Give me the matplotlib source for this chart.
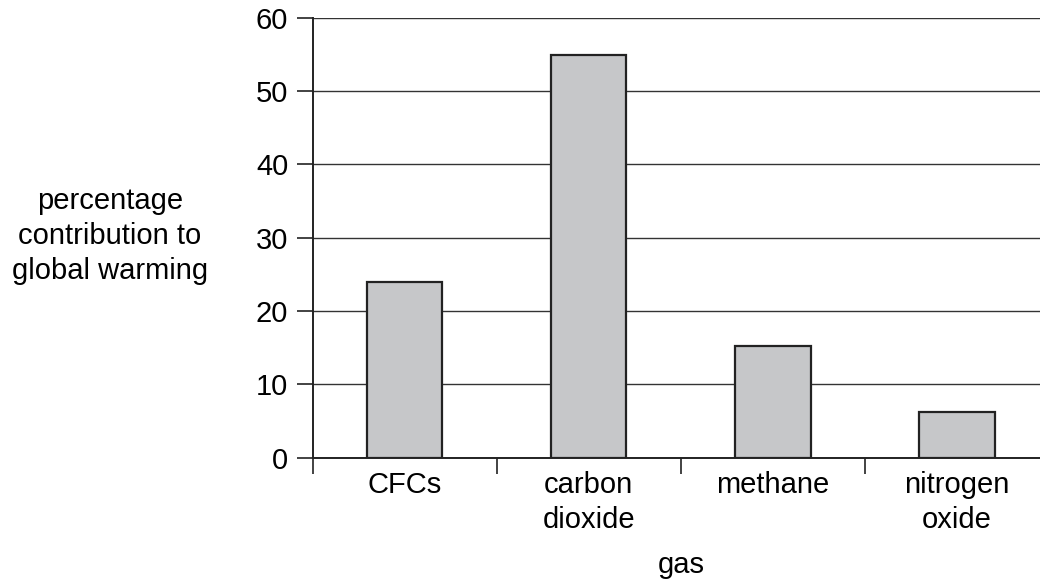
import matplotlib
matplotlib.use("Agg")
import matplotlib.pyplot as plt

categories = ["CFCs", "carbon\ndioxide", "methane", "nitrogen\noxide"]
values = [24, 55, 15.2, 6.2]
yticks = [0, 10, 20, 30, 40, 50, 60]

plt.rcParams['font.family'] = ['Liberation Sans', 'DejaVu Sans']
FS = 21

fig = plt.figure(figsize=(10.4, 5.8), dpi=100)
ax = fig.add_axes([0.3005, 0.2112, 0.7082, 0.7578])

x = list(range(len(categories)))
ax.bar(x, values, width=0.41, color="#c6c7c9", edgecolor="#222222", linewidth=1.6, zorder=3)

ax.set_xlim(-0.5, len(categories) - 0.5)
ax.set_ylim(0, 60)
ax.set_yticks(yticks)
ax.set_yticklabels([str(t) for t in yticks], fontsize=FS)
ax.yaxis.grid(True, color="#333333", linewidth=1.0, zorder=0)
ax.set_axisbelow(True)

# category boundary ticks
ax.set_xticks([i - 0.5 for i in range(len(categories))])
ax.set_xticklabels([])
ax.set_xticks(x, minor=True)
ax.set_xticklabels(categories, minor=True, fontsize=FS, linespacing=1.3)
ax.tick_params(axis='x', which='minor', length=0, pad=10)
ax.tick_params(axis='x', which='major', length=11.5, width=1.2, color="#222222", direction='out')
ax.tick_params(axis='y', length=11.5, width=1.2, color="#222222", pad=6)

for s in ["top", "right"]:
    ax.spines[s].set_visible(False)
for s in ["left", "bottom"]:
    ax.spines[s].set_color("#222222")
    ax.spines[s].set_linewidth(1.4)

fig.text(110 / 1040, 1 - 236 / 580, "percentage\ncontribution to\nglobal warming",
         ha="center", va="center", fontsize=FS, linespacing=1.3)
fig.text(681 / 1040, 1 - 565 / 580, "gas", ha="center", va="center", fontsize=FS)

fig.savefig("out.png", dpi=100)
